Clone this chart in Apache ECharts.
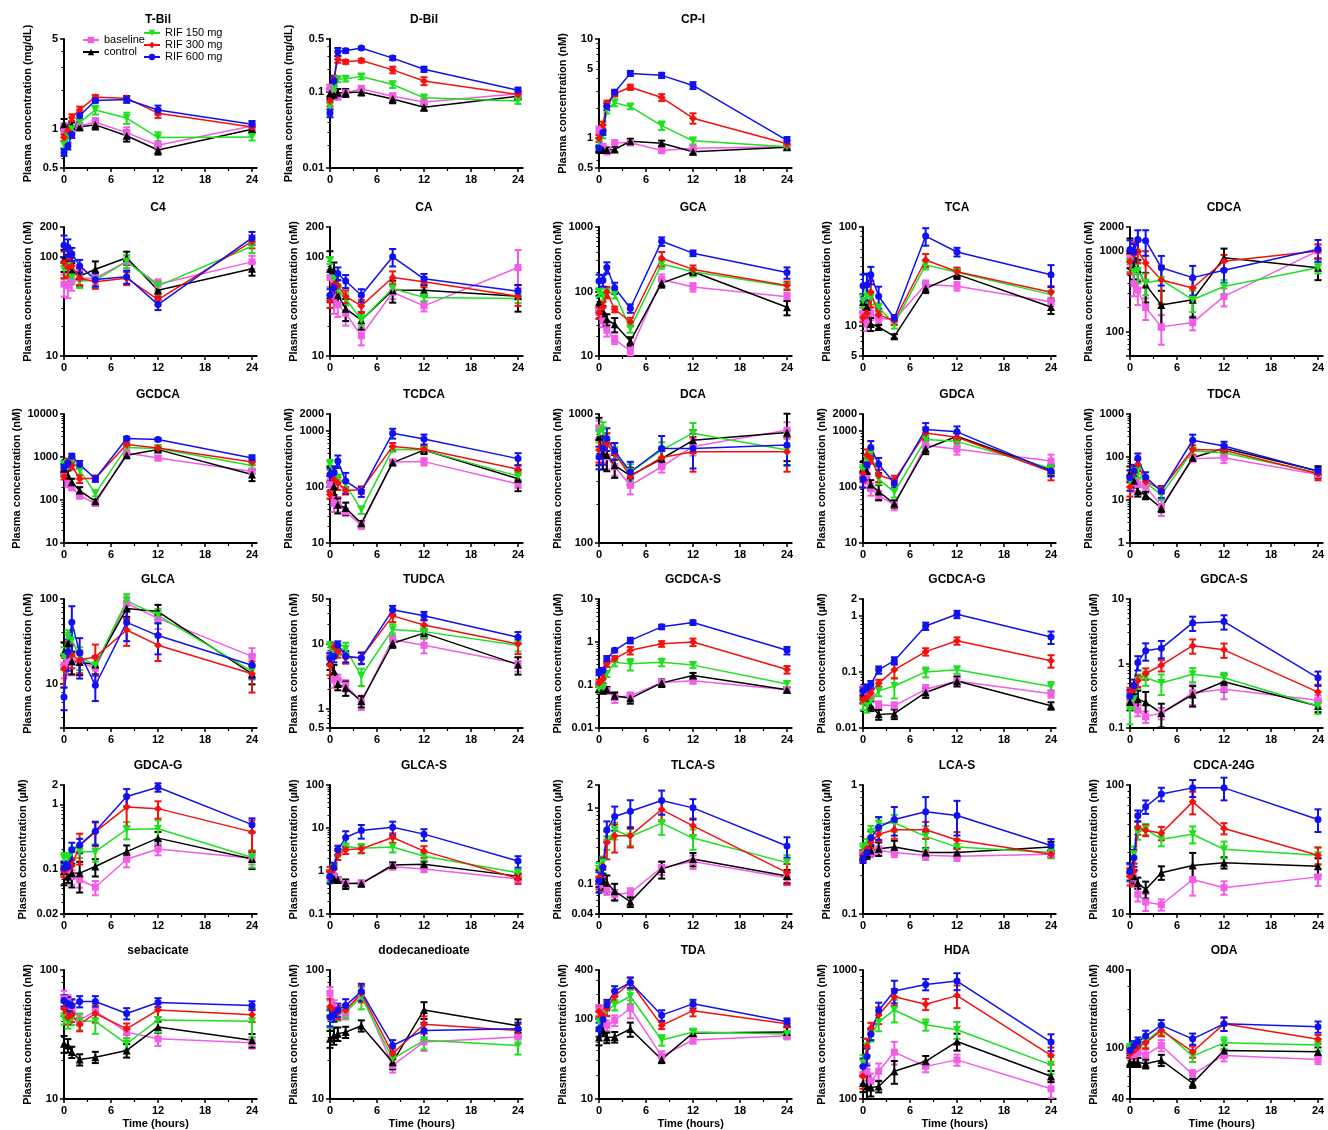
<!DOCTYPE html>
<html>
<head>
<meta charset="utf-8">
<script src="https://cdn.jsdelivr.net/npm/echarts@6/dist/echarts.min.js"></script>
<style>
html, body { margin: 0; padding: 0; background: #fff; }
#chart { width: 1328px; height: 1130px; }
</style>
</head>
<body>
<div id="chart"></div>
<script>
var hours = [0, 0.5, 1, 2, 4, 8, 12, 24];
var xTicks = [0, 6, 12, 18, 24];
var groups = ['baseline', 'control', 'RIF 150 mg', 'RIF 300 mg', 'RIF 600 mg'];

// means, rows: baseline, control, RIF 150, RIF 300, RIF 600
var tBil = [[1.03,0.94,1.0,1.06,1.13,0.94,0.75,1.06],[1.09,1.0,1.06,1.04,1.08,0.89,0.69,1.0],[0.76,0.89,1.0,1.13,1.41,1.22,0.86,0.87],[0.86,0.97,1.23,1.41,1.77,1.74,1.33,1.04],[0.66,0.74,0.91,1.27,1.67,1.70,1.41,1.09]];
var dBil = [[0.114,0.098,0.088,0.098,0.11,0.088,0.074,0.095],[0.096,0.093,0.098,0.098,0.10,0.081,0.063,0.088],[0.065,0.108,0.147,0.15,0.16,0.126,0.084,0.076],[0.076,0.147,0.27,0.25,0.26,0.196,0.14,0.093],[0.053,0.14,0.34,0.35,0.38,0.28,0.20,0.106]];
var cp1 = [[1.19,0.82,0.73,0.90,0.90,0.75,0.79,0.82],[0.77,0.76,0.76,0.77,0.93,0.89,0.73,0.81],[0.93,1.08,1.93,2.28,2.08,1.34,0.94,0.82],[1.0,1.36,2.25,2.8,3.26,2.57,1.59,0.88],[0.79,1.14,2.08,2.9,4.5,4.3,3.4,0.95]];
var c4 = [[53,51,57,61,61,90,53,89],[94,84,72,64,75,98,46,76],[75,81,62,57,58,90,51,128],[87,78,81,61,56,61,37,143],[131,125,107,81,59,63,33,155]];
var ca = [[62,38,33,27,16,44,32,78],[76,73,41,30,23,46,46,40],[92,60,46,38,23,48,39,38],[36,53,51,40,32,62,56,40],[41,49,68,57,41,100,60,45]];
var gca = [[47,35,25,18,12,153,117,83],[68,50,37,31,17,135,202,57],[98,86,98,92,27,266,202,121],[47,57,98,53,34,328,220,124],[146,149,236,114,55,600,393,197]];
var tca = [[13.5,10.5,13.5,12,11.6,26.3,25.3,17.6],[17.5,15.6,10.5,9.8,7.9,24,33.3,15.6],[18,20,19.4,15.4,10.5,41.5,35,20.8],[12.2,13.5,22,13,11.4,46.5,35.4,22],[25.5,26,33,20,12,81,56,33]];
var cdca = [[850,395,330,200,115,130,275,1010],[1030,635,600,385,215,250,830,625],[735,550,570,405,440,250,365,625],[750,920,1010,715,440,350,750,1010],[1050,980,1400,1350,625,470,580,1060]];
var gcdca = [[445,246,198,126,83,1240,950,461],[533,372,260,166,93,1094,1486,392],[673,723,835,487,143,1655,1567,638],[352,764,638,311,322,1945,1625,764],[583,723,1036,673,311,2690,2550,950]];
var tcdca = [[110,51,51,36,21,279,283,113],[179,103,48,42,22.4,272,454,140],[253,167,145,110,39,472,454,156],[73,136,118,86,89,528,472,206],[167,179,291,127,83,909,716,320]];
var dca = [[774,525,465,390,280,390,560,750],[667,495,480,400,333,450,625,718],[710,750,590,480,355,525,710,525],[525,540,590,495,328,460,510,510],[465,540,646,518,355,540,540,574]];
var gdca = [[145,162,93,71,48,550,470,290],[214,192,110,83,50,480,800,200],[200,303,400,138,81,700,650,214],[174,373,325,162,132,920,770,187],[138,246,506,253,118,1060,960,192]];
var tdca = [[33,25,23,21,7.1,91,96,39],[43,28,16,13,6.5,96,160,47],[27,39,47,25,13.3,138,126,43],[20,43,67,27,17.5,150,143,41],[33,47,93,34,16,245,181,47]];
var glca = [[16.5,18,18,18,15.3,89,59,21],[23.7,30,18.4,18,16.8,77,71,13.1],[20.7,35.7,32.6,20.7,16.5,95,64,14],[15,23.7,21.7,19,20.7,43,28.5,13.1],[6.95,23.7,53,23,9.6,53,37,16.5]];
var tudca = [[6.1,2.8,2.8,2.3,1.27,11.7,9.6,5.0],[5.3,3.8,2.4,2.1,1.3,10.3,14.8,4.8],[9.0,7.4,8.4,8.4,3.2,16.9,15.6,9.6],[4.7,9.0,7.7,6.2,6.2,27.4,19.8,10],[6.1,6.5,9.6,6.5,6.1,34,27.4,12.8]];
var gcdcaS = [[0.106,0.081,0.074,0.051,0.056,0.115,0.126,0.078],[0.081,0.074,0.078,0.056,0.049,0.112,0.166,0.078],[0.081,0.088,0.18,0.34,0.31,0.34,0.29,0.106],[0.112,0.138,0.31,0.41,0.64,0.91,1.0,0.23],[0.198,0.217,0.41,0.64,1.09,2.25,2.84,0.64]];
var gcdcaG = [[0.046,0.037,0.035,0.026,0.025,0.049,0.069,0.041],[0.037,0.032,0.025,0.0175,0.018,0.043,0.069,0.025],[0.028,0.025,0.030,0.046,0.056,0.10,0.109,0.055],[0.032,0.035,0.042,0.063,0.109,0.23,0.36,0.159],[0.046,0.052,0.060,0.109,0.159,0.66,1.07,0.42]];
var gdcaS = [[0.31,0.25,0.19,0.15,0.17,0.35,0.40,0.27],[0.25,0.33,0.28,0.25,0.17,0.33,0.52,0.22],[0.19,0.28,0.54,0.60,0.50,0.68,0.60,0.22],[0.35,0.40,0.54,0.70,0.94,1.89,1.63,0.36],[0.31,0.45,1.04,1.58,1.72,4.26,4.47,0.60]];
var gdcaG = [[0.097,0.086,0.076,0.068,0.052,0.141,0.203,0.146],[0.093,0.076,0.086,0.086,0.109,0.185,0.30,0.142],[0.146,0.146,0.18,0.185,0.185,0.41,0.42,0.15],[0.093,0.103,0.112,0.234,0.375,0.91,0.86,0.375],[0.103,0.109,0.196,0.234,0.385,1.33,1.85,0.486]];
var glcaS = [[0.84,0.74,0.62,0.51,0.53,1.26,1.11,0.65],[0.88,0.67,0.62,0.51,0.51,1.38,1.43,0.76],[0.81,1.15,2.7,3.7,3.4,3.6,2.2,0.91],[0.96,1.1,2.4,3.1,3.3,6.0,2.9,0.67],[0.74,1.2,3.1,6.0,8.7,10.4,7.2,1.7]];
var tlcaS = [[0.109,0.098,0.084,0.072,0.076,0.164,0.196,0.12],[0.12,0.109,0.103,0.08,0.058,0.156,0.212,0.127],[0.156,0.19,0.35,0.51,0.42,0.63,0.40,0.19],[0.12,0.17,0.35,0.43,0.43,0.95,0.58,0.14],[0.109,0.164,0.51,0.77,0.90,1.25,1.0,0.315]];
var lcaS = [[0.29,0.30,0.30,0.31,0.30,0.285,0.28,0.29],[0.28,0.29,0.31,0.32,0.33,0.30,0.30,0.33],[0.32,0.34,0.43,0.50,0.51,0.40,0.33,0.30],[0.285,0.32,0.36,0.415,0.45,0.45,0.375,0.29],[0.27,0.30,0.39,0.47,0.54,0.62,0.58,0.34]];
var cdca24g = [[20.9,19.1,14.2,12.4,11.8,18.5,16.0,19.4],[22.1,19.6,17.4,15.5,20.9,23.8,25,23.5],[20.3,29,42.8,45.4,38,41.5,31.7,28.5],[19.6,21.4,46.8,44.6,42.3,74,46,28.5],[21.4,27.3,57.7,67.8,85,95,95,54]];
var sebacicate = [[60,57,52,41,48,33,29.3,27.3],[26.8,26,23.1,20.2,21.1,23.8,36.2,28.5],[42,39,42.5,40,40,26.8,41,40],[50,43,45,38,46,35,49,45],[58,55,53,57,57,46,56,53]];
var dodecanedioate = [[66,52,47,46,66,18.2,27.7,30.2],[29.3,31,32,33,37,19.3,49,37],[42,46,46,47,62,20.5,28.5,26],[52,49,47,49,66,22.4,38,34],[43,45,49,53,68,26,34,35]];
var tda = [[128,116,82,95,134,34,54,61],[58,71,58,59,74,31,66,68],[91,105,125,148,189,54,68,64],[122,110,134,189,280,82,125,86],[74,97,148,219,280,110,152,91]];
var hda = [[154,164,137,164,231,179,201,120],[133,125,123,125,164,196,279,150],[190,255,310,394,490,376,344,184],[150,255,354,448,620,543,633,218],[179,214,318,485,688,773,821,276]];
var oda = [[95,88,91,88,104,62,87,81],[77,77,77,75,80,53,95,93],[99,103,104,111,140,86,109,105],[90,95,101,109,136,93,153,116],[95,104,111,123,149,117,153,145]];

// SEM as % of the mean, same layout
var tBilErr = [[8,8,6,6,8,10,8,8],[10,8,6,6,8,10,8,6],[6,6,6,6,8,10,10,6],[6,6,6,6,4,4,8,6],[6,6,6,6,4,6,8,6]];
var dBilErr = [[10,10,10,10,10,10,10,8],[15,12,12,12,10,12,10,8],[12,10,8,8,8,10,10,8],[15,12,10,6,6,10,12,8],[12,15,12,6,4,6,8,8]];
var cp1Err = [[10,6,6,6,6,6,6,6],[6,6,6,6,6,6,6,6],[8,8,8,8,6,10,8,6],[8,8,6,6,6,8,12,6],[6,6,8,6,6,6,8,8]];
var c4Err = [[25,25,20,20,15,15,12,15],[25,25,20,20,20,15,15,15],[20,20,15,15,15,15,12,15],[30,20,20,15,15,15,12,15],[25,20,15,15,15,15,12,15]];
var caErr = [[20,30,25,25,20,15,12,50],[50,20,20,25,20,25,12,30],[8,15,15,15,12,12,10,10],[15,15,15,15,15,15,12,20],[15,20,15,15,15,20,12,15]];
var gcaErr = [[20,20,20,15,15,20,15,15],[25,20,20,25,15,15,10,25],[15,15,15,15,15,15,15,10],[20,20,20,10,15,25,15,15],[25,20,20,20,15,15,10,20]];
var tcaErr = [[15,15,15,10,10,10,10,10],[20,15,15,5,5,10,10,15],[15,15,15,10,10,10,10,10],[10,10,30,10,10,15,10,15],[30,30,20,25,8,20,10,25]];
var cdcaErr = [[20,30,35,30,40,20,25,20],[40,30,30,40,50,40,30,30],[25,25,30,30,50,30,20,15],[30,40,30,40,50,30,20,20],[30,25,30,35,40,40,30,30]];
var gcdcaErr = [[20,20,15,15,10,10,12,10],[25,30,20,20,10,10,10,30],[20,20,15,20,15,10,10,15],[15,20,20,20,15,10,15,15],[20,20,15,20,15,10,8,15]];
var tcdcaErr = [[25,30,30,15,15,10,15,15],[30,30,30,25,10,10,15,40],[20,20,15,15,15,10,10,15],[15,30,25,15,15,15,15,20],[30,30,25,40,20,20,20,25]];
var dcaErr = [[15,20,20,15,15,10,15,15],[40,25,25,20,15,15,20,40],[15,15,20,15,15,15,20,25],[20,25,20,20,15,15,30,30],[20,25,20,15,20,25,30,30]];
var gdcaErr = [[30,30,25,20,20,20,20,30],[30,30,20,30,15,20,15,20],[25,25,20,20,20,20,20,20],[30,25,20,25,20,25,20,30],[30,30,30,30,20,30,25,20]];
var tdcaErr = [[40,40,30,30,40,15,25,20],[40,30,25,20,20,15,20,30],[40,30,30,25,25,20,20,20],[40,40,30,25,20,25,25,30],[50,40,30,30,30,35,25,20]];
var glcaErr = [[30,30,30,30,30,20,25,25],[30,30,30,30,25,20,20,25],[30,20,30,30,25,20,20,20],[40,30,30,30,40,35,35,40],[30,40,55,50,35,40,40,30]];
var tudcaErr = [[20,25,20,20,25,25,25,25],[25,25,20,25,20,15,15,30],[20,20,20,25,30,20,20,20],[30,15,20,20,20,20,20,30],[20,20,15,20,20,15,15,20]];
var gcdcaSErr = [[15,15,15,25,20,15,15,15],[15,15,15,20,25,20,15,15],[20,20,15,20,30,20,15,15],[20,20,15,15,20,15,20,20],[15,15,15,10,15,12,12,20]];
var gcdcaGErr = [[20,20,15,15,15,20,20,15],[25,20,20,20,20,20,20,15],[25,25,20,20,40,20,15,20],[15,20,15,15,30,15,15,25],[15,15,15,15,15,15,15,25]];
var gdcaSErr = [[20,20,20,20,20,35,30,20],[25,30,35,45,40,35,30,20],[40,30,25,25,35,25,20,25],[20,25,20,20,20,25,25,30],[25,25,25,30,30,25,25,25]];
var gdcaGErr = [[20,20,25,25,25,25,20,20],[40,20,40,50,30,25,25,30],[20,20,20,20,30,30,35,30],[20,20,30,50,40,50,30,50],[20,20,30,25,40,30,15,25]];
var glcaSErr = [[20,20,15,15,15,15,15,15],[20,20,15,25,15,15,15,15],[30,30,20,15,25,25,20,15],[30,25,25,20,20,25,30,25],[30,30,25,40,35,35,30,30]];
var tlcaSErr = [[15,15,15,15,15,20,20,20],[25,25,25,25,15,25,20,20],[20,20,20,25,25,30,30,25],[30,30,40,40,30,30,25,30],[30,30,30,35,40,35,30,30]];
var lcaSErr = [[8,8,8,8,8,8,8,5],[8,8,8,12,12,8,8,10],[10,12,12,12,15,20,15,10],[10,10,10,12,15,15,15,5],[8,10,12,20,25,30,30,12]];
var cdca24gErr = [[15,15,12,15,10,25,12,15],[12,12,10,15,12,25,10,15],[12,15,12,10,12,15,15,15],[15,15,12,10,12,20,10,15],[15,15,10,12,12,15,20,20]];
var sebacicateErr = [[15,12,12,10,12,10,12,10],[15,12,10,10,10,12,10,12],[10,10,12,15,20,10,20,25],[12,12,12,12,15,10,12,12],[10,12,12,10,10,10,8,8]];
var dodecanedioateErr = [[12,12,12,10,12,12,15,12],[15,15,12,10,10,12,15,12],[15,12,12,10,20,10,15,15],[15,12,12,10,15,10,15,12],[15,12,12,12,15,10,15,12]];
var tdaErr = [[15,15,15,15,25,15,10,10],[20,15,15,15,20,10,10,15],[15,15,15,15,20,15,10,10],[15,15,20,15,15,10,15,10],[20,15,15,15,15,15,12,10]];
var hdaErr = [[15,15,15,15,20,10,10,15],[15,20,15,10,20,10,15,10],[15,15,10,15,20,10,15,15],[20,15,10,15,15,10,20,15],[15,15,10,15,20,10,15,15]];
var odaErr = [[10,8,8,10,10,8,10,8],[8,8,8,8,10,8,10,8],[8,8,8,10,10,10,10,10],[8,8,8,10,10,10,12,8],[8,8,8,10,10,10,12,10]];

var panels = [
    {title: 'T-Bil', unit: 'mg/dL', min: 0.5, max: 5, mean: tBil, err: tBilErr},
    {title: 'D-Bil', unit: 'mg/dL', min: 0.01, max: 0.5, mean: dBil, err: dBilErr},
    {title: 'CP-I', unit: 'nM', min: 0.5, max: 10, mean: cp1, err: cp1Err, labels: [0.5, 1, 5, 10]},
    {title: 'C4', unit: 'nM', min: 10, max: 200, mean: c4, err: c4Err},
    {title: 'CA', unit: 'nM', min: 10, max: 200, mean: ca, err: caErr},
    {title: 'GCA', unit: 'nM', min: 10, max: 1000, mean: gca, err: gcaErr},
    {title: 'TCA', unit: 'nM', min: 5, max: 100, mean: tca, err: tcaErr},
    {title: 'CDCA', unit: 'nM', min: 50, max: 2000, mean: cdca, err: cdcaErr, hideMin: true},
    {title: 'GCDCA', unit: 'nM', min: 10, max: 10000, mean: gcdca, err: gcdcaErr},
    {title: 'TCDCA', unit: 'nM', min: 10, max: 2000, mean: tcdca, err: tcdcaErr},
    {title: 'DCA', unit: 'nM', min: 100, max: 1000, mean: dca, err: dcaErr},
    {title: 'GDCA', unit: 'nM', min: 10, max: 2000, mean: gdca, err: gdcaErr},
    {title: 'TDCA', unit: 'nM', min: 1, max: 1000, mean: tdca, err: tdcaErr},
    {title: 'GLCA', unit: 'nM', min: 3, max: 100, mean: glca, err: glcaErr, hideMin: true},
    {title: 'TUDCA', unit: 'nM', min: 0.5, max: 50, mean: tudca, err: tudcaErr},
    {title: 'GCDCA-S', unit: 'µM', min: 0.01, max: 10, mean: gcdcaS, err: gcdcaSErr},
    {title: 'GCDCA-G', unit: 'µM', min: 0.01, max: 2, mean: gcdcaG, err: gcdcaGErr},
    {title: 'GDCA-S', unit: 'µM', min: 0.1, max: 10, mean: gdcaS, err: gdcaSErr},
    {title: 'GDCA-G', unit: 'µM', min: 0.02, max: 2, mean: gdcaG, err: gdcaGErr},
    {title: 'GLCA-S', unit: 'µM', min: 0.1, max: 100, mean: glcaS, err: glcaSErr},
    {title: 'TLCA-S', unit: 'µM', min: 0.04, max: 2, mean: tlcaS, err: tlcaSErr},
    {title: 'LCA-S', unit: 'µM', min: 0.1, max: 1, mean: lcaS, err: lcaSErr},
    {title: 'CDCA-24G', unit: 'nM', min: 10, max: 100, mean: cdca24g, err: cdca24gErr},
    {title: 'sebacicate', unit: 'nM', min: 10, max: 100, mean: sebacicate, err: sebacicateErr},
    {title: 'dodecanedioate', unit: 'nM', min: 10, max: 100, mean: dodecanedioate, err: dodecanedioateErr},
    {title: 'TDA', unit: 'nM', min: 10, max: 400, mean: tda, err: tdaErr},
    {title: 'HDA', unit: 'nM', min: 100, max: 1000, mean: hda, err: hdaErr},
    {title: 'ODA', unit: 'nM', min: 40, max: 400, mean: oda, err: odaErr}
];

var colors = ['#f35ce6', '#000000', '#1fe01f', '#f51010', '#1010f0'];
var symbols = ['rect', 'triangle', 'triangle', 'diamond', 'circle'];
var symbolRot = [0, 0, 180, 0, 0];
var symbolSizes = [7, 8, 8, 8, 7];

var FONT = '"Liberation Sans", Arial, sans-serif';
var colLeft = [64, 330, 599, 863, 1130];
var rowTop = [39, 227, 414, 599, 785, 970];
var X_MAX = 24.6;               // axis line runs a little past 24 h
var plotW = 188 * X_MAX / 24, plotH = 129;

function fmt(v) {
    return String(parseFloat(Number(v).toPrecision(4)));
}

// widest y label -> distance of the axis title
function labelChars(p) {
    var vals = [p.max];
    if (!p.hideMin) vals.push(p.min);
    for (var e = -4; e <= 5; e++) {
        var d = Math.pow(10, e);
        if (d > p.min && d < p.max) vals.push(d);
    }
    var n = 0;
    vals.forEach(function (v) { n = Math.max(n, fmt(v).length); });
    return n;
}

var grids = [], xAxes = [], yAxes = [], titles = [], series = [];

panels.forEach(function (p, i) {
    var row = i < 3 ? 0 : Math.floor((i - 3) / 5) + 1;
    var col = i < 3 ? i : (i - 3) % 5;
    var left = colLeft[col], top = rowTop[row];

    grids.push({left: left, top: top, width: plotW, height: plotH});

    titles.push({
        text: p.title, left: left + 94, top: top - 25, textAlign: 'center', padding: 0,
        textStyle: {fontFamily: FONT, fontSize: 12, fontWeight: 'bold', color: '#000'}
    });

    xAxes.push({
        type: 'value', gridIndex: i, min: 0, max: X_MAX, interval: 6,
        name: row === 5 ? 'Time (hours)' : '', nameLocation: 'middle', nameGap: 19,
        nameTextStyle: {fontFamily: FONT, fontSize: 11, fontWeight: 'bold', color: '#000',
            padding: [0, 0, 0, -188 * 0.6 / 24 * 2]},
        axisLine: {lineStyle: {color: '#000', width: 2}},
        axisTick: {length: 4, lineStyle: {color: '#000', width: 1.5}, customValues: xTicks},
        minorTick: {show: true, splitNumber: 2, length: 3, lineStyle: {color: '#000', width: 1.2}},
        axisLabel: {customValues: xTicks, margin: 6, fontFamily: FONT, fontSize: 11, fontWeight: 'bold', color: '#000'},
        splitLine: {show: false}
    });

    var yLabel = {
        margin: 6, fontFamily: FONT, fontSize: 11, fontWeight: 'bold', color: '#000',
        showMinLabel: !p.hideMin, formatter: fmt
    };
    if (p.labels) yLabel.customValues = p.labels;

    yAxes.push({
        type: 'log', logBase: 10, gridIndex: i, min: p.min, max: p.max,
        name: 'Plasma concentration (' + p.unit + ')', nameLocation: 'middle',
        nameGap: 14 + 5.5 * labelChars(p),
        nameTextStyle: {fontFamily: FONT, fontSize: 11, fontWeight: 'bold', color: '#000'},
        axisLine: {show: true, lineStyle: {color: '#000', width: 2}},
        axisTick: {show: true, length: 4, lineStyle: {color: '#000', width: 1.5}},
        minorTick: {show: true, splitNumber: 9, length: 2.5, lineStyle: {color: '#000', width: 1}},
        axisLabel: yLabel,
        splitLine: {show: false}
    });

    groups.forEach(function (g, k) {
        var m = p.mean[k], e = p.err[k];
        series.push({
            type: 'custom', name: g + ' SEM', xAxisIndex: i, yAxisIndex: i, z: 2, silent: true,
            encode: {x: 0, y: [1, 2]},
            data: hours.map(function (t, j) {
                return [t, m[j] * (1 - e[j] / 100), m[j] * (1 + e[j] / 100)];
            }),
            renderItem: function (params, api) {
                var t = api.value(0);
                var lo = api.coord([t, api.value(1)]);
                var hi = api.coord([t, api.value(2)]);
                var st = {stroke: colors[k], lineWidth: 2};
                return {
                    type: 'group', children: [
                        {type: 'line', shape: {x1: lo[0], y1: lo[1], x2: hi[0], y2: hi[1]}, style: st},
                        {type: 'line', shape: {x1: lo[0] - 3.5, y1: lo[1], x2: lo[0] + 3.5, y2: lo[1]}, style: st},
                        {type: 'line', shape: {x1: hi[0] - 3.5, y1: hi[1], x2: hi[0] + 3.5, y2: hi[1]}, style: st}
                    ]
                };
            }
        });
        series.push({
            type: 'line', name: g, xAxisIndex: i, yAxisIndex: i, z: 3,
            data: hours.map(function (t, j) { return [t, m[j]]; }),
            symbol: symbols[k], symbolRotate: symbolRot[k], symbolSize: symbolSizes[k],
            showAllSymbol: true,
            itemStyle: {color: colors[k]},
            lineStyle: {color: colors[k], width: 1.5}
        });
    });
});

var legendText = {fontFamily: FONT, fontSize: 11, color: '#000', lineHeight: 12};

var chart = echarts.init(document.getElementById('chart'));
chart.setOption({
    animation: false,
    backgroundColor: '#fff',
    title: titles,
    legend: [
        {data: groups.slice(0, 2), orient: 'vertical', left: 82, top: 34, padding: 0,
            itemGap: 0, itemWidth: 16, itemHeight: 8, textStyle: legendText},
        {data: groups.slice(2), orient: 'vertical', left: 143, top: 27, padding: 0,
            itemGap: 0, itemWidth: 16, itemHeight: 8, textStyle: legendText}
    ],
    grid: grids,
    xAxis: xAxes,
    yAxis: yAxes,
    series: series
});
</script>
</body>
</html>
